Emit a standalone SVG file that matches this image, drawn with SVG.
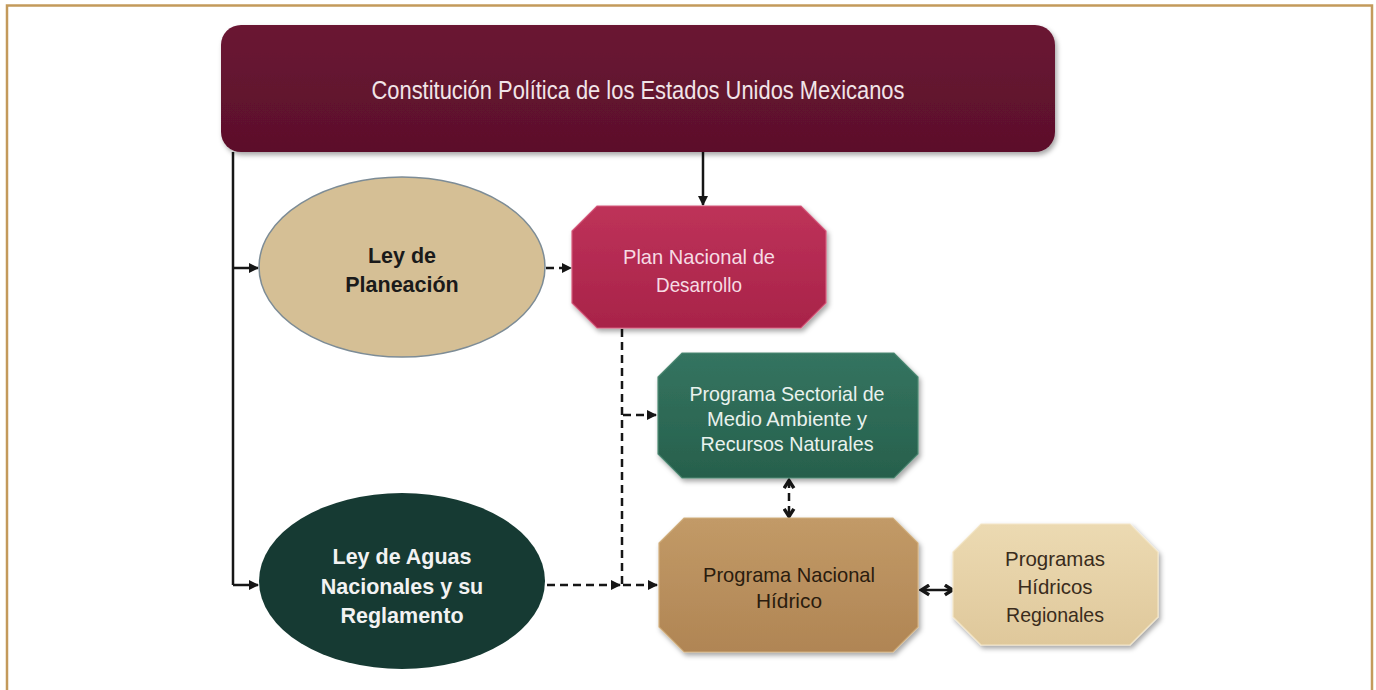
<svg xmlns="http://www.w3.org/2000/svg" width="1376" height="690" viewBox="0 0 1376 690">
<style>
.t{font-family:"Liberation Sans Narrow","Liberation Sans",Arial,sans-serif;text-anchor:middle}
.n{font-size:21px}
.b{font-family:"Liberation Sans",Arial,sans-serif;font-size:21.5px;font-weight:bold}
.ln{fill:none;stroke:#161616;stroke-width:2.5}
.d{stroke-dasharray:8 5}
</style>
<defs>
<marker id="ah" viewBox="0 0 10 10" refX="9" refY="5" markerWidth="4" markerHeight="4" orient="auto-start-reverse" markerUnits="strokeWidth">
<path d="M0,0 L10,5 L0,10 z" fill="#161616"/>
</marker>
<marker id="ch" viewBox="0 0 12 12" refX="10.5" refY="6" markerWidth="13" markerHeight="13" orient="auto-start-reverse" markerUnits="userSpaceOnUse">
<path d="M3,1.5 L10,6 L3,10.5" fill="none" stroke="#161616" stroke-width="3.2"/>
</marker>
<filter id="sh" x="-10%" y="-10%" width="125%" height="130%">
<feDropShadow dx="2" dy="3" stdDeviation="2.5" flood-color="#000" flood-opacity="0.35"/>
</filter>
<linearGradient id="gTop" x1="0" y1="0" x2="0" y2="1">
<stop offset="0" stop-color="#6a1533"/><stop offset="1" stop-color="#5c102b"/>
</linearGradient>
<linearGradient id="gPlan" x1="0" y1="0" x2="0" y2="1">
<stop offset="0" stop-color="#be3259"/><stop offset="1" stop-color="#a82349"/>
</linearGradient>
<linearGradient id="gSec" x1="0" y1="0" x2="0" y2="1">
<stop offset="0" stop-color="#347460"/><stop offset="1" stop-color="#27604c"/>
</linearGradient>
<linearGradient id="gPnh" x1="0" y1="0" x2="0" y2="1">
<stop offset="0" stop-color="#c29a67"/><stop offset="1" stop-color="#b08554"/>
</linearGradient>
<linearGradient id="gReg" x1="0" y1="0" x2="0" y2="1">
<stop offset="0" stop-color="#ecdab2"/><stop offset="1" stop-color="#dfc89b"/>
</linearGradient>
</defs>
<rect width="1376" height="690" fill="#ffffff"/>
<path d="M7,690 V5.5 H1372 V690" fill="none" stroke="#c39a5b" stroke-width="2.5"/>

<g id="connectors">
<path class="ln" d="M233,152 V585"/>
<path class="ln" d="M233,268 H258" marker-end="url(#ah)"/>
<path class="ln" d="M233,585 H258" marker-end="url(#ah)"/>
<path class="ln" d="M703,152 V205" marker-end="url(#ah)"/>
<path class="ln d" d="M546,268 H571" stroke-dasharray="7 4" marker-end="url(#ah)"/>
<path class="ln d" d="M622,329 V585"/>
<path class="ln d" d="M623,415 H656" marker-end="url(#ah)"/>
<path class="ln d" d="M547,585 H620" marker-end="url(#ah)"/>
<path class="ln d" d="M623,585 H657" marker-end="url(#ah)"/>
<path class="ln d" d="M789,480 V517" stroke-dasharray="6 4" marker-start="url(#ch)" marker-end="url(#ch)"/>
<path class="ln" d="M921,590 H953" marker-start="url(#ch)" marker-end="url(#ch)"/>
</g>

<g id="constitucion">
<rect x="221" y="25" width="834" height="127" rx="20" fill="url(#gTop)" filter="url(#sh)"/>
<text class="t" x="638" y="99" font-size="25" textLength="533" lengthAdjust="spacingAndGlyphs" fill="#f1e4e8">Constitución Política de los Estados Unidos Mexicanos</text>
</g>

<g id="ley-planeacion">
<ellipse cx="402" cy="267" rx="143" ry="90" fill="#d5bf95" stroke="#7d8c96" stroke-width="1.5"/>
<text class="t b" x="402" y="263" fill="#1a1a1a">Ley de</text>
<text class="t b" x="402" y="292" fill="#1a1a1a">Planeación</text>
</g>

<g id="plan-nacional">
<polygon points="597,206 801,206 826,231 826,303 801,328 597,328 572,303 572,231" fill="url(#gPlan)" stroke="#d65a7c" stroke-width="1.2" filter="url(#sh)"/>
<text class="t n" x="699" y="264" textLength="152" lengthAdjust="spacingAndGlyphs" fill="#f6dbe3">Plan Nacional de</text>
<text class="t n" x="699" y="292" textLength="86" lengthAdjust="spacingAndGlyphs" fill="#f6dbe3">Desarrollo</text>
</g>

<g id="programa-sectorial">
<polygon points="682,353 894,353 918,377 918,454 894,478 682,478 658,454 658,377" fill="url(#gSec)" stroke="#4f8a74" stroke-width="1.2" filter="url(#sh)"/>
<text class="t n" x="787" y="401" textLength="195" lengthAdjust="spacingAndGlyphs" fill="#e9f2ee">Programa Sectorial de</text>
<text class="t n" x="787" y="426" textLength="160" lengthAdjust="spacingAndGlyphs" fill="#e9f2ee">Medio Ambiente y</text>
<text class="t n" x="787" y="451" textLength="173" lengthAdjust="spacingAndGlyphs" fill="#e9f2ee">Recursos Naturales</text>
</g>

<g id="programa-nacional-hidrico">
<polygon points="684,518 893,518 918,543 918,627 893,652 684,652 659,627 659,543" fill="url(#gPnh)" stroke="#d2b07e" stroke-width="1.2" filter="url(#sh)"/>
<text class="t n" x="789" y="582" textLength="172" lengthAdjust="spacingAndGlyphs" fill="#2a1c0e">Programa Nacional</text>
<text class="t n" x="789" y="608" textLength="66" lengthAdjust="spacingAndGlyphs" fill="#2a1c0e">Hídrico</text>
</g>

<g id="programas-regionales">
<polygon points="981,524 1130,524 1158,552 1158,617 1130,645 981,645 953,617 953,552" fill="url(#gReg)" stroke="#f3e6c8" stroke-width="1.2" filter="url(#sh)"/>
<text class="t n" x="1055" y="566" textLength="100" lengthAdjust="spacingAndGlyphs" fill="#3a2c1c">Programas</text>
<text class="t n" x="1055" y="594" textLength="75" lengthAdjust="spacingAndGlyphs" fill="#3a2c1c">Hídricos</text>
<text class="t n" x="1055" y="622" textLength="98" lengthAdjust="spacingAndGlyphs" fill="#3a2c1c">Regionales</text>
</g>

<g id="ley-aguas">
<ellipse cx="402" cy="581" rx="143" ry="88" fill="#163a33"/>
<text class="t b" x="402" y="564" fill="#f2f2f2">Ley de Aguas</text>
<text class="t b" x="402" y="594" fill="#f2f2f2">Nacionales y su</text>
<text class="t b" x="402" y="623" fill="#f2f2f2">Reglamento</text>
</g>
</svg>
